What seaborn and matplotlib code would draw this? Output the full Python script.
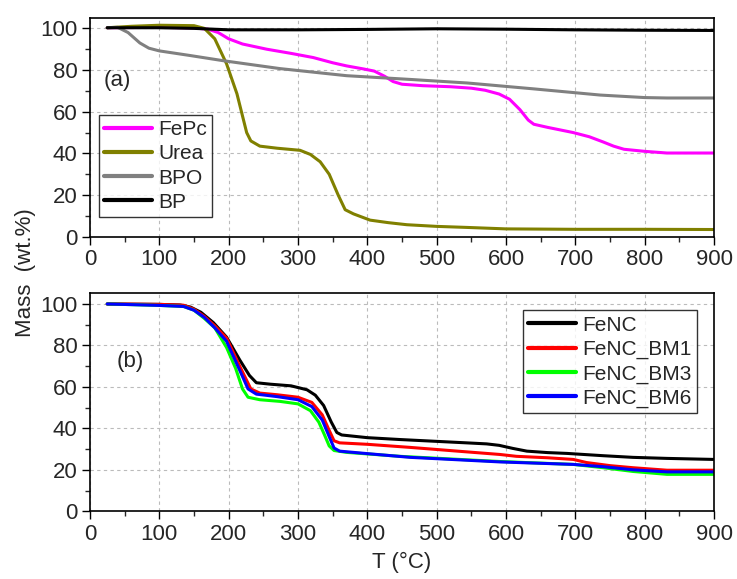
import numpy as np
import pandas as pd
import matplotlib
matplotlib.use("Agg")
import matplotlib.pyplot as plt
import seaborn as sns
from matplotlib.ticker import MultipleLocator

# ---- Panel (a) data ----
fepc_T = [25, 100, 150, 170, 185, 200, 220, 255, 290, 322, 350, 370, 395, 410, 425, 437, 450, 480, 520,
          550, 570, 590, 605, 620, 632, 640, 660, 697, 720, 740, 755, 770, 800, 832, 900]
fepc_m = [100.3, 100.5, 100.2, 99.6, 98, 95, 92.5, 90, 88, 86, 83.5, 82, 80.5, 79.5, 77, 74.5, 73.2, 72.5, 72,
          71.3, 70.3, 68.5, 66, 61, 56, 54, 52.5, 50, 48, 45.5, 43.5, 42, 41, 40.2, 40.2]

urea_T = [25, 60, 100, 150, 165, 180, 197, 212, 226, 232, 245, 270, 303, 318, 332, 345, 358, 368, 380, 404,
          430, 457, 500, 544, 600, 700, 800, 900]
urea_m = [100.3, 101, 101.5, 101.3, 100, 95, 83, 68.6, 50, 46, 43.5, 42.5, 41.5, 39.5, 36, 30, 20, 13, 11, 8,
          6.8, 5.8, 5, 4.5, 3.8, 3.6, 3.6, 3.5]

bpo_T = [25, 40, 55, 72, 85, 100, 144, 192, 274, 370, 462, 544, 639, 736, 800, 832, 900]
bpo_m = [100.3, 100.5, 98, 93, 90.5, 89.2, 87, 84.5, 80.7, 77.3, 75.5, 73.8, 71, 68, 66.8, 66.6, 66.6]

bp_T = [25, 100, 150, 200, 300, 400, 500, 600, 700, 800, 900]
bp_m = [100.3, 100.3, 100, 99.3, 99.3, 99.5, 99.8, 99.6, 99.3, 99.1, 99.0]

# ---- Panel (b) data ----
fenc_T = [25, 100, 130, 145, 160, 178, 197, 216, 230, 240, 260, 290, 313, 325, 337, 348, 356, 363, 400, 447,
          543, 572, 590, 610, 630, 660, 688, 740, 783, 832, 900]
fenc_m = [100, 99.8, 99.5, 98.5, 96, 91, 84, 73, 65.5, 62, 61.3, 60.5, 58.6, 56, 51, 43, 38, 36.8, 35.5, 34.6,
          33, 32.5, 31.8, 30.3, 29, 28.3, 27.9, 26.8, 26, 25.5, 25]

bm1_T = [25, 100, 135, 150, 165, 180, 197, 216, 232, 245, 270, 300, 320, 335, 345, 352, 360, 400, 462, 530,
         591, 615, 660, 697, 716, 750, 783, 832, 900]
bm1_m = [100, 99.8, 99.4, 97.5, 94, 89.5, 83.6, 70, 59, 57, 56.2, 55, 52.5, 46.5, 39, 34, 33, 32.3, 30.8, 29,
         27.4, 26.5, 25.8, 25, 23.5, 22, 21, 19.8, 19.8]

bm3_T = [25, 100, 135, 150, 165, 180, 197, 210, 220, 228, 245, 274, 300, 318, 330, 338, 345, 352, 370, 447,
         591, 697, 740, 783, 832, 900]
bm3_m = [100, 99.3, 98.8, 97, 93, 88.5, 79, 69, 59, 55, 53.8, 53, 51.8, 48.5, 43, 37, 31.5, 29.3, 28.4, 26.5,
         24, 22.6, 21, 19.2, 17.8, 17.8]

bm6_T = [25, 100, 135, 150, 165, 180, 197, 216, 228, 240, 270, 300, 320, 335, 345, 352, 360, 400, 462, 591,
         697, 740, 783, 832, 900]
bm6_m = [100, 99.3, 98.8, 97, 93.5, 88.5, 82, 68, 59, 56.5, 55.3, 53.8, 50.5, 44, 36, 30.5, 29, 27.8, 26, 23.8,
         22.6, 21.5, 20, 19, 19]

top_labels = ["FePc", "Urea", "BPO", "BP"]
top_colors = ["#FF00FF", "#808000", "#808080", "#000000"]
bot_labels = ["FeNC", "FeNC_BM1", "FeNC_BM3", "FeNC_BM6"]
bot_colors = ["#000000", "#FF0000", "#00FF00", "#0000FF"]

x_ticks = [0, 100, 200, 300, 400, 500, 600, 700, 800, 900]
y_ticks = [0, 20, 40, 60, 80, 100]


def frame(series, labels):
    rows = []
    for (T, m), lab in zip(series, labels):
        for t, v in zip(T, m):
            rows.append((lab, t, v))
    return pd.DataFrame(rows, columns=["sample", "T", "mass"])


df_a = frame([(fepc_T, fepc_m), (urea_T, urea_m), (bpo_T, bpo_m), (bp_T, bp_m)], top_labels)
df_b = frame([(fenc_T, fenc_m), (bm1_T, bm1_m), (bm3_T, bm3_m), (bm6_T, bm6_m)], bot_labels)

sns.set_theme(style="white")
plt.rcParams["font.family"] = ["Liberation Sans", "DejaVu Sans"]

fig = plt.figure(figsize=(7.37, 5.79), dpi=100)
ax1 = fig.add_axes([0.122, 0.591, 0.847, 0.378])
ax2 = fig.add_axes([0.122, 0.117, 0.847, 0.377])


def style(ax, ylim):
    ax.set_xlim(0, 900)
    ax.set_ylim(*ylim)
    ax.set_xticks(x_ticks)
    ax.set_yticks(y_ticks)
    ax.xaxis.set_minor_locator(MultipleLocator(50))
    ax.yaxis.set_minor_locator(MultipleLocator(10))
    ax.tick_params(axis="both", which="major", direction="out", length=6, width=1,
                   labelsize=16, color="black", bottom=True, left=True, pad=3)
    ax.tick_params(axis="both", which="minor", direction="out", length=3.5, width=1,
                   bottom=True, left=True)
    ax.grid(True, which="major", linestyle=(0, (3, 3)), color="#bbbbbb", linewidth=0.8)
    for s in ax.spines.values():
        s.set_color("black")
        s.set_linewidth(1.2)
    ax.set_xlabel("")
    ax.set_ylabel("")


leg_kw = dict(fontsize=15, frameon=True, fancybox=False, edgecolor="black",
              handlelength=2.3, handletextpad=0.3, borderpad=0.25, labelspacing=0.25,
              borderaxespad=0)

sns.lineplot(data=df_a, x="T", y="mass", hue="sample", hue_order=top_labels,
             palette=top_colors, sort=False, linewidth=2.2, ax=ax1, legend=False)
style(ax1, (0, 105))
ax1.text(0.022, 0.69, "(a)", transform=ax1.transAxes, fontsize=16)
h1 = [plt.Line2D([], [], color=c, lw=3) for c in top_colors]
leg1 = ax1.legend(h1, top_labels, loc="upper left", bbox_to_anchor=(0.014, 0.557), **leg_kw)
leg1.get_frame().set_linewidth(1.0)

sns.lineplot(data=df_b, x="T", y="mass", hue="sample", hue_order=bot_labels,
             palette=bot_colors, sort=False, linewidth=2.2, ax=ax2, legend=False)
style(ax2, (0, 105.3))
ax2.text(0.042, 0.66, "(b)", transform=ax2.transAxes, fontsize=16)
h2 = [plt.Line2D([], [], color=c, lw=3) for c in bot_colors]
leg2 = ax2.legend(h2, bot_labels, loc="upper right", bbox_to_anchor=(0.972, 0.92), **leg_kw)
leg2.get_frame().set_linewidth(1.0)

ax2.set_xlabel("T (°C)", fontsize=16, labelpad=5)
fig.text(0.034, 0.53, "Mass  (wt.%)", rotation=90, fontsize=16, ha="center", va="center")

fig.savefig("out.png", dpi=100, facecolor="white")
